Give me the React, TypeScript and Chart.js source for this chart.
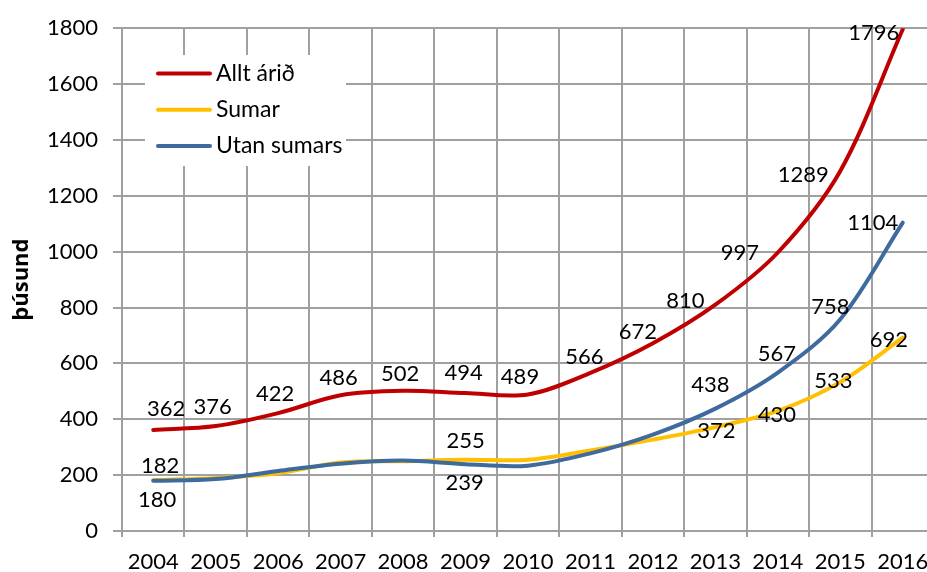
import React, { useEffect, useRef } from "react";
import { Chart, registerables } from "chart.js";

Chart.register(...registerables);

// ---- data ----
const years = ["2004", "2005", "2006", "2007", "2008", "2009", "2010", "2011", "2012", "2013", "2014", "2015", "2016"];
const alltArid = [362, 376, 422, 486, 502, 494, 489, 566, 672, 810, 997, 1289, 1796];
const sumar = [182, 190, 207, 245, 250, 255, 255, 288, 327, 372, 430, 533, 692];
const utanSumars = [180, 186, 215, 241, 252, 239, 234, 278, 345, 438, 567, 758, 1104];
const seriesNames = ["Allt árið", "Sumar", "Utan sumars"];
const yMin = 0;
const yMax = 1800;
const yStep = 200;

// ---- label placement (offset of each value label from its point; null = no label) ----
type Off = [number, number] | null;
const alltLabelOffsets: Off[] = [
  [13, -21], [-3, -19], [-3, -19], [-2, -17], [-3, -17], [-2, -20], [-8, -17],
  [-6, -16], [-15, -11], [-30, -4], [-38, 0], [-37, 4], [-29, 4],
];
const sumarLabelOffsets: Off[] = [
  [7, -14], null, null, null, null, [0, -19], null, null, null, [1, 4], [-1, 4], [-7, -1], [-14, 2],
];
const utanLabelOffsets: Off[] = [
  [4, 19], null, null, null, null, [-1, 19], null, null, null, [-5, -24], [-1, -19], [-10, -12], [-30, 0],
];

// ---- styles ----
const FONT = "Lato, 'Open Sans', sans-serif";
const FONT_SIZE = 22;
const GRID = "#a0a0a0";
const RED = "#C00000";
const YELLOW = "#FFC000";
const BLUE = "#3E6A9F";

const dataLabelPlugin = {
  id: "valueLabels",
  afterDatasetsDraw(chart: any) {
    const ctx = chart.ctx as CanvasRenderingContext2D;
    ctx.save();
    ctx.font = `${FONT_SIZE}px ${FONT}`;
    ctx.fillStyle = "#000";
    ctx.textAlign = "center";
    ctx.textBaseline = "middle";
    chart.data.datasets.forEach((ds: any, di: number) => {
      const offs: Off[] = ds.labelOffsets || [];
      const meta = chart.getDatasetMeta(di);
      meta.data.forEach((pt: any, i: number) => {
        const o = offs[i];
        if (!o) return;
        ctx.fillText(String(ds.data[i]), pt.x + o[0], pt.y + o[1]);
      });
    });
    ctx.restore();
  },
};

const boxLegendPlugin = {
  id: "boxLegend",
  afterDraw(chart: any) {
    const ctx = chart.ctx as CanvasRenderingContext2D;
    ctx.save();
    ctx.fillStyle = "#ffffff";
    ctx.fillRect(145, 55, 201, 111);
    chart.data.datasets.forEach((ds: any, i: number) => {
      const y = 73.5 + i * 36.2;
      ctx.strokeStyle = ds.borderColor;
      ctx.lineWidth = 4;
      ctx.lineCap = "round";
      ctx.beginPath();
      ctx.moveTo(158, y);
      ctx.lineTo(210, y);
      ctx.stroke();
      ctx.fillStyle = "#000";
      ctx.font = `${FONT_SIZE + 1}px ${FONT}`;
      ctx.textAlign = "left";
      ctx.textBaseline = "middle";
      ctx.fillText(ds.label, 216, y);
    });
    ctx.restore();
  },
};

export default function App() {
  const ref = useRef<HTMLCanvasElement | null>(null);

  useEffect(() => {
    if (!ref.current) return;
    const font = { family: FONT, size: FONT_SIZE };
    const chart = new Chart(ref.current, {
      type: "line",
      data: {
        labels: years,
        datasets: [
          { label: seriesNames[0], data: alltArid, borderColor: RED, backgroundColor: RED, order: 0, labelOffsets: alltLabelOffsets } as any,
          { label: seriesNames[1], data: sumar, borderColor: YELLOW, backgroundColor: YELLOW, order: 2, labelOffsets: sumarLabelOffsets } as any,
          { label: seriesNames[2], data: utanSumars, borderColor: BLUE, backgroundColor: BLUE, order: 1, labelOffsets: utanLabelOffsets } as any,
        ],
      },
      options: {
        responsive: false,
        animation: false,
        devicePixelRatio: 1,
        layout: { padding: { left: 0, right: 10, top: 26, bottom: 0 } },
        elements: {
          line: { borderWidth: 4, tension: 0.33, borderCapStyle: "round", borderJoinStyle: "round" },
          point: { radius: 0, hoverRadius: 0 },
        },
        plugins: { legend: { display: false }, tooltip: { enabled: false } },
        scales: {
          x: {
            type: "category",
            offset: true,
            grid: { offset: true, color: GRID, lineWidth: 2, tickLength: 6, drawTicks: true },
            border: { color: GRID, width: 2 },
            ticks: { font, color: "#000", padding: 12, maxRotation: 0, autoSkip: false },
            afterFit: (s: any) => { s.height = 41; },
          },
          y: {
            min: yMin,
            max: yMax,
            ticks: { stepSize: yStep, font, color: "#000", padding: 15, callback: (v: any) => String(v) },
            grid: { color: GRID, lineWidth: 2, tickLength: 9 },
            border: { color: GRID, width: 2 },
            title: {
              display: true,
              text: "þúsund",
              color: "#000",
              font: { family: "'Open Sans', Lato, sans-serif", size: 22, weight: "bold" },
              padding: { top: 9, bottom: 0 },
            },
            afterFit: (s: any) => { s.width = 122; },
          },
        },
      } as any,
      plugins: [dataLabelPlugin, boxLegendPlugin],
    });
    return () => chart.destroy();
  }, []);

  return (
    <div style={{ position: "absolute", left: 0, top: 0, width: 927, height: 572, overflow: "hidden", background: "#fff" }}>
      <canvas ref={ref} width={944} height={572} style={{ display: "block" }} />
    </div>
  );
}
